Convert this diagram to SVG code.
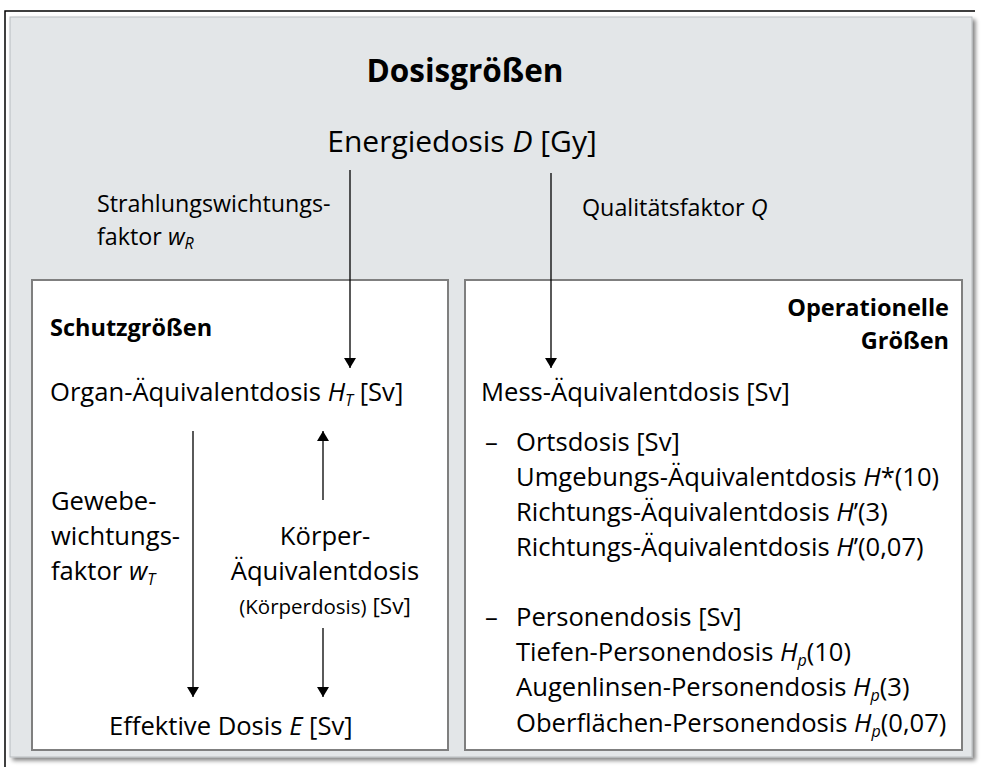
<svg xmlns="http://www.w3.org/2000/svg" width="981" height="767" viewBox="0 0 981 767">
  <defs>
    <marker id="arrow" viewBox="0 0 10 12" refX="10" refY="6" markerWidth="10" markerHeight="12" markerUnits="userSpaceOnUse" orient="auto">
      <path d="M0,0 L10,6 L0,12 Z" fill="#000"/>
    </marker>
    <filter id="shadow" x="-5%" y="-5%" width="110%" height="110%">
      <feGaussianBlur in="SourceAlpha" stdDeviation="2"/>
      <feOffset dx="3" dy="3"/>
      <feComponentTransfer><feFuncA type="linear" slope="0.5"/></feComponentTransfer>
      <feMerge><feMergeNode/><feMergeNode in="SourceGraphic"/></feMerge>
    </filter>
  </defs>
  <style>
    text { font-family: "Open Sans", "Noto Sans", sans-serif; fill: #000; }
    .t { font-size: 25.6px; }
    .s { font-size: 23.3px; }
    .h { font-size: 23.5px; font-weight: bold; }
    .i { font-style: italic; }
    .sub { font-style: italic; font-size: 16px; }
    .box { fill: #fff; stroke: #7f7f7f; stroke-width: 2; }
    .conn line { stroke: #000; stroke-width: 1.3; }
  </style>

  <!-- outer frame -->
  <rect x="0" y="0" width="981" height="767" fill="#fff"/>
  <path d="M5,767 V11 H975" fill="none" stroke="#000" stroke-width="1.5"/>
  <rect x="10" y="17" width="962" height="740" fill="#e3e6e8" stroke="#b8bcbf" stroke-width="1" filter="url(#shadow)"/>

  <g id="title">
    <text x="465" y="82" text-anchor="middle" font-weight="bold" font-size="31.5">Dosisgrößen</text>
  </g>

  <g id="energiedosis">
    <text x="462" y="152" text-anchor="middle" font-size="30">Energiedosis <tspan class="i">D</tspan> [Gy]</text>
  </g>

  <g id="label-wr">
    <text x="97" y="212" class="s">Strahlungswichtungs-</text>
    <text x="97" y="245" class="s">faktor <tspan class="i">w</tspan><tspan class="sub" font-size="14" dy="4">R</tspan></text>
  </g>

  <g id="label-q">
    <text x="582" y="216" class="s">Qualitätsfaktor <tspan class="i">Q</tspan></text>
  </g>

  <g id="schutzgroessen">
    <rect class="box" x="32" y="280" width="416" height="470"/>
    <text x="50" y="336" class="h">Schutzgrößen</text>
  </g>

  <g id="operationelle">
    <rect class="box" x="465" y="280" width="497" height="470"/>
    <text x="949" y="316" class="h" text-anchor="end">Operationelle</text>
    <text x="949" y="349" class="h" text-anchor="end">Größen</text>
  </g>

  <g id="organdosis">
    <text x="50" y="401" class="t">Organ-Äquivalentdosis <tspan class="i">H</tspan><tspan class="sub" dy="5">T</tspan><tspan dy="-5"> [Sv]</tspan></text>
  </g>

  <g id="label-wt">
    <text x="51" y="510" class="t">Gewebe-</text>
    <text x="51" y="545" class="t">wichtungs-</text>
    <text x="51" y="580" class="t">faktor <tspan class="i">w</tspan><tspan class="sub" dy="5">T</tspan></text>
  </g>

  <g id="koerperdosis">
    <text x="325" y="545" class="t" text-anchor="middle">Körper-</text>
    <text x="325" y="580" class="t" text-anchor="middle">Äquivalentdosis</text>
    <text x="325" y="614" text-anchor="middle"><tspan font-size="20.5">(Körperdosis)</tspan><tspan font-size="22.5"> [Sv]</tspan></text>
  </g>

  <g id="effektivdosis">
    <text x="109" y="735" class="t">Effektive Dosis <tspan class="i">E</tspan> [Sv]</text>
  </g>

  <g id="messdosis">
    <text x="481" y="401" class="t">Mess-Äquivalentdosis [Sv]</text>
  </g>

  <g id="ortsdosis">
    <text x="485" y="451" class="t">–</text>
    <text x="516" y="451" class="t">Ortsdosis [Sv]</text>
    <text x="516" y="486" class="t">Umgebungs-Äquivalentdosis <tspan class="i">H</tspan>*(10)</text>
    <text x="516" y="521" class="t">Richtungs-Äquivalentdosis <tspan class="i">H</tspan>’(3)</text>
    <text x="516" y="556" class="t">Richtungs-Äquivalentdosis <tspan class="i">H</tspan>’(0,07)</text>
  </g>

  <g id="personendosis">
    <text x="485" y="626" class="t">–</text>
    <text x="516" y="626" class="t">Personendosis [Sv]</text>
    <text x="516" y="661" class="t">Tiefen-Personendosis <tspan class="i">H</tspan><tspan class="sub" dy="5">p</tspan><tspan dy="-5">(10)</tspan></text>
    <text x="516" y="696" class="t">Augenlinsen-Personendosis <tspan class="i">H</tspan><tspan class="sub" dy="5">p</tspan><tspan dy="-5">(3)</tspan></text>
    <text x="516" y="732" class="t">Oberflächen-Personendosis <tspan class="i">H</tspan><tspan class="sub" dy="5">p</tspan><tspan dy="-5">(0,07)</tspan></text>
  </g>

  <g id="connectors" class="conn">
    <line x1="350" y1="170" x2="350" y2="368" marker-end="url(#arrow)"/>
    <line x1="551" y1="173" x2="551" y2="368" marker-end="url(#arrow)"/>
    <line x1="193" y1="431" x2="193" y2="697" marker-end="url(#arrow)"/>
    <line x1="323" y1="500" x2="323" y2="431" marker-end="url(#arrow)"/>
    <line x1="323" y1="628" x2="323" y2="697" marker-end="url(#arrow)"/>
  </g>
</svg>
